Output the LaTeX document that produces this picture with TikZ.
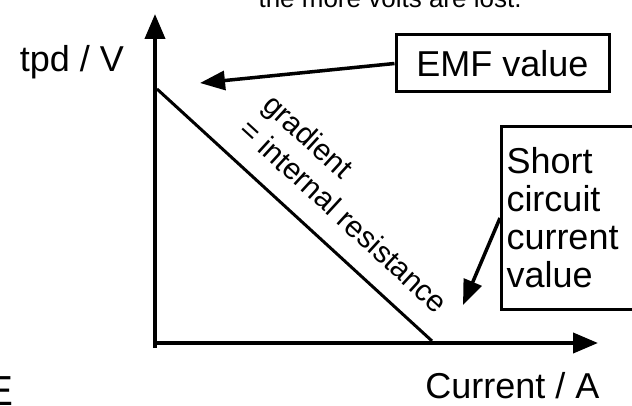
\documentclass[tikz,border=0pt]{standalone}
\usepackage{fontspec}
\setmainfont{Liberation Sans}
\usetikzlibrary{arrows.meta}
\tikzset{
  axis/.style={line width=4pt, -{Triangle[length=25pt,width=20pt]}},
  pointer/.style={line width=3.5pt, -{Triangle[length=25pt,width=19pt]}},
  labelbox/.style={draw, line width=3pt, inner sep=0pt},
  bigtext/.style={font=\fontsize{36}{38}\selectfont},
}
\begin{document}
\begin{tikzpicture}[x=1pt,y=-1pt]
\useasboundingbox (0,0) rectangle (632,406);
\clip (0,0) rectangle (632,406);
% axes
\coordinate (yb) at (155,348);
\coordinate (yt) at (155,14);
\coordinate (xl) at (153,343);
\coordinate (xr) at (598,343);
\draw[axis] (yb) -- (yt);
\draw[axis] (xl) -- (xr);
% graph line
\coordinate (la) at (157,89);
\coordinate (lb) at (432,341);
\draw[line width=3pt] (la) -- (lb);
% labels
\node[bigtext, anchor=base] (tpd) at (72,72) {tpd / V};
\node[bigtext, anchor=base east] (cur) at (603,398) {Current / A};
\node[font=\fontsize{26}{30}\selectfont, anchor=base west] (top) at (255,8) {the more volts are lost.};
\node[font=\fontsize{42}{44}\selectfont, anchor=base east, inner sep=0pt] (ee) at (14,405) {E};
\node[font=\fontsize{30}{35}\selectfont, align=left, rotate=-42.5, inner sep=0pt] (grad) at (356,203) {gradient\\= internal resistance};
% boxes
\node[labelbox, bigtext, minimum width=213pt, minimum height=57pt] (emf) at (502.5,63.5) {EMF value};
\node[labelbox, bigtext, anchor=north west, minimum width=200pt, minimum height=183pt, align=left, text width=190pt, inner xsep=4pt] (sc) at (500,125) {Short\\circuit\\current\\value};
% pointers
\coordinate (emftip) at (200,83);
\coordinate (sctip) at (463,305);
\draw[pointer] (emf.west) -- (emftip);
\draw[pointer] (sc.west) -- (sctip);
\end{tikzpicture}
\end{document}
